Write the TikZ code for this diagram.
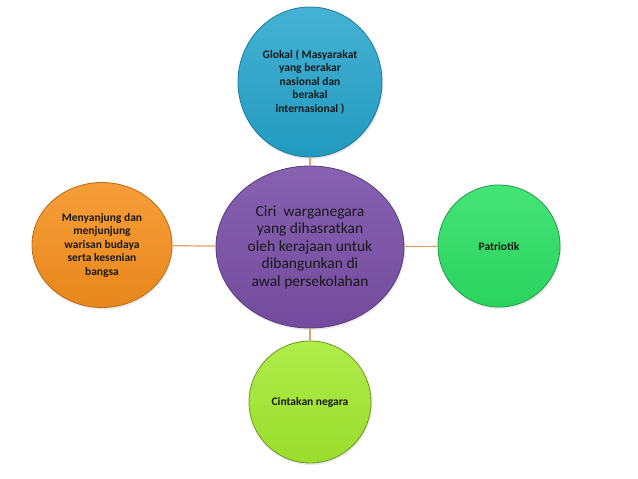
\documentclass[tikz,border=0pt]{standalone}
\usepackage{fontspec}
\setmainfont{Carlito}
\usetikzlibrary{shapes.geometric,shadows}

\definecolor{ciripurple}{RGB}{122,80,168}
\definecolor{glokalblue}{RGB}{36,164,204}
\definecolor{warisanorange}{RGB}{246,144,30}
\definecolor{patriotgreen}{RGB}{44,224,100}
\definecolor{cintalime}{RGB}{164,234,48}
\definecolor{linktan}{RGB}{226,160,100}

\begin{document}
\begin{tikzpicture}[x=1pt,y=-1pt,
  bubble/.style={ellipse,inner sep=0pt,align=center,text=black!90,line width=0.8pt,
    drop shadow={opacity=0.18,shadow xshift=1pt,shadow yshift=-2pt}},
  small/.style={font=\fontsize{11.5}{13.5}\selectfont\bfseries},
  link/.style={draw=linktan,line width=1.2pt}]

  \useasboundingbox (0,0) rectangle (638,479);

  % the middle one, a bit wider than tall
  \node[bubble,minimum width=188pt,minimum height=162pt,
    top color=ciripurple!90!white,bottom color=ciripurple!94!black,
    draw=ciripurple!75!black,font=\fontsize{15.5}{17.5}\selectfont]
    (ciri) at (310,247) {Ciri\ \ warganegara\\ yang dihasratkan\\ oleh kerajaan untuk\\ dibangunkan di\\ awal persekolahan};

  % the four round the middle
  \node[bubble,small,minimum width=144pt,minimum height=150pt,
    top color=glokalblue!85!white,bottom color=glokalblue!94!black,
    draw=glokalblue!75!black]
    (glokal) at (310,82) {Glokal ( Masyarakat\\ yang berakar\\ nasional dan\\ berakal\\ internasional )};

  \node[bubble,small,minimum width=140pt,minimum height=125pt,
    top color=warisanorange!88!white,bottom color=warisanorange!94!black,
    draw=warisanorange!75!black]
    (warisan) at (102,245) {Menyanjung dan\\ menjunjung\\ warisan budaya\\ serta kesenian\\ bangsa};

  \node[bubble,small,minimum width=122pt,minimum height=122pt,
    top color=patriotgreen!88!white,bottom color=patriotgreen!94!black,
    draw=patriotgreen!70!black]
    (patriotik) at (499,246) {Patriotik};

  \node[bubble,small,minimum width=122pt,minimum height=122pt,
    top color=cintalime!88!white,bottom color=cintalime!94!black,
    draw=cintalime!65!black]
    (cintakan) at (310,402) {Cintakan negara};

  \foreach \n in {glokal,warisan,patriotik,cintakan}{% one line from the
    \draw[link] (ciri) -- (\n);}% middle out to each of the four

\end{tikzpicture}
\end{document}
